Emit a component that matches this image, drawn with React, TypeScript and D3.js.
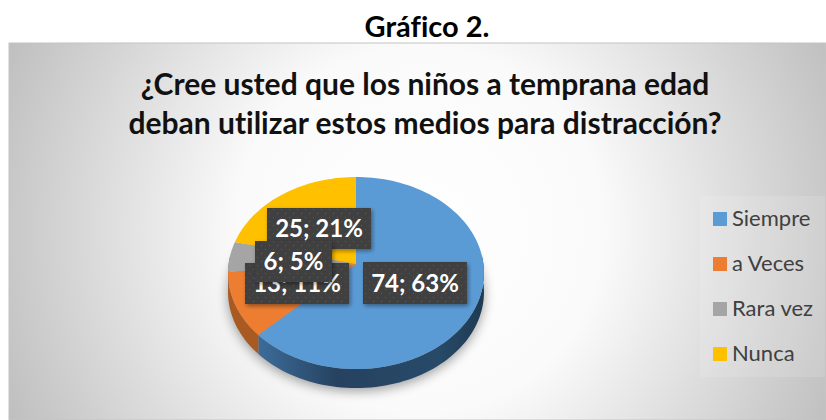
import React from "react";
import * as d3 from "d3";

const categories = ["Siempre", "a Veces", "Rara vez", "Nunca"];
const values = [74, 13, 6, 25];
const percents = ["63%", "11%", "5%", "21%"];
const colors = ["#5b9bd5", "#ed7d31", "#a5a5a5", "#ffc000"];
const sideColors = ["#2f5373", "#a85a22", "#777777", "#b38600"];
const heading = "Gráfico 2.";
const titleLines = ["¿Cree usted que los niños a temprana edad", "deban utilizar estos medios para distracción?"];
const labelOrder = [0, 1, 3, 2];
const labelBoxes = [
  { x: 363, y: 262, w: 104, h: 42 },
  { x: 245, y: 263, w: 104, h: 41 },
  { x: 255, y: 241, w: 77, h: 41 },
  { x: 267, y: 208, w: 104, h: 41 },
];

const W = 826, H = 420;
const cx = 356, apexY = 264, Rx = 127.4, Ry = 95.2, k = 0.0938, depth = 19;
const font = "Lato, 'Open Sans', sans-serif";

function edge(theta: number, dy = 0): [number, number] {
  const u = Math.sin(theta), v = -Math.cos(theta), w = 1 - k * v;
  return [cx + (Rx * u) / w, apexY + (Ry * v) / w + dy];
}
function arcPts(a0: number, a1: number, dy = 0) {
  const n = Math.max(2, Math.ceil(((a1 - a0) / Math.PI) * 90));
  return d3.range(n + 1).map((i) => edge(a0 + ((a1 - a0) * i) / n, dy));
}
const line = d3.line();

export default function App() {
  const arcs = d3.pie<number>().sort(null)(values);
  const sides = arcs.map((a) => {
    const lo = Math.max(a.startAngle, Math.PI / 2 - 0.1);
    const hi = Math.min(a.endAngle, (3 * Math.PI) / 2 + 0.1);
    if (hi <= lo) return null;
    return line([...arcPts(lo, hi), ...arcPts(lo, hi, depth).reverse()])! + "Z";
  });
  const tops = arcs.map((a) => line([[cx, apexY], ...arcPts(a.startAngle, a.endAngle)])! + "Z");
  const whole = line(arcPts(0, Math.PI * 2, depth + 3))! + "Z";
  return (
    <svg width={W} height={H} style={{ position: "absolute", left: 0, top: 0, background: "#fff", fontVariantLigatures: "none" }}>
      <defs>
        <radialGradient id="bg" gradientUnits="userSpaceOnUse" cx={420} cy={230} r={460}>
          <stop offset="0" stopColor="#ffffff" />
          <stop offset="0.4" stopColor="#fafafa" />
          <stop offset="1" stopColor="#bdbdbd" />
        </radialGradient>
        <linearGradient id="blueSide" x1="0" x2="1" y1="0" y2="0">
          <stop offset="0" stopColor="#3d6c99" />
          <stop offset="0.35" stopColor="#264260" />
          <stop offset="0.8" stopColor="#274a68" />
          <stop offset="1" stopColor="#1f3a52" />
        </linearGradient>
        <pattern id="dots" width="8" height="8" patternUnits="userSpaceOnUse">
          <rect width="8" height="8" fill="#404040" />
          <rect x="1" y="1" width="1" height="1" fill="#585858" />
          <rect x="5" y="5" width="1" height="1" fill="#585858" />
        </pattern>
        <filter id="soft" x="-30%" y="-30%" width="160%" height="160%">
          <feGaussianBlur stdDeviation="6" />
        </filter>
        <filter id="boxShadow" x="-20%" y="-20%" width="140%" height="140%">
          <feDropShadow dx="1.5" dy="2" stdDeviation="2" floodColor="#000" floodOpacity="0.4" />
        </filter>
      </defs>
      <rect x={9} y={43} width={W - 9} height={H - 43} fill="url(#bg)" stroke="#c4c4c4" strokeWidth={1} />
      <text x={427} y={37} textAnchor="middle" fontFamily={font} fontWeight={700} fontSize={29} fill="#000">{heading}</text>
      {titleLines.map((t, i) => (
        <text key={i} x={425} y={95 + i * 39} textAnchor="middle" fontFamily={font} fontWeight={700} fontSize={30} fill="#111">{t}</text>
      ))}
      <path d={whole} fill="#000" opacity={0.38} filter="url(#soft)" />
      {sides.map((d, i) => d && <path key={i} d={d} fill={i === 0 ? "url(#blueSide)" : sideColors[i]} />)}
      {tops.map((d, i) => <path key={i} d={d} fill={colors[i]} />)}
      {labelOrder.map((i) => {
        const b = labelBoxes[i];
        return (
          <g key={i}>
            <rect x={b.x} y={b.y} width={b.w} height={b.h} fill="url(#dots)" filter="url(#boxShadow)" />
            <text x={b.x + b.w / 2} y={b.y + b.h / 2 + 8.5} textAnchor="middle" fontFamily={font} fontWeight={700} fontSize={24} fill="#fff">
              {`${values[i]}; ${percents[i]}`}
            </text>
          </g>
        );
      })}
      <rect x={700} y={196} width={125} height={181} fill="#fff" opacity={0.12} />
      {categories.map((c, i) => (
        <g key={c}>
          <rect x={713} y={212 + i * 45} width={14} height={14} fill={colors[i]} />
          <text x={732} y={226 + i * 45} fontFamily={font} fontSize={22} fill="#404040">{c}</text>
        </g>
      ))}
    </svg>
  );
}
